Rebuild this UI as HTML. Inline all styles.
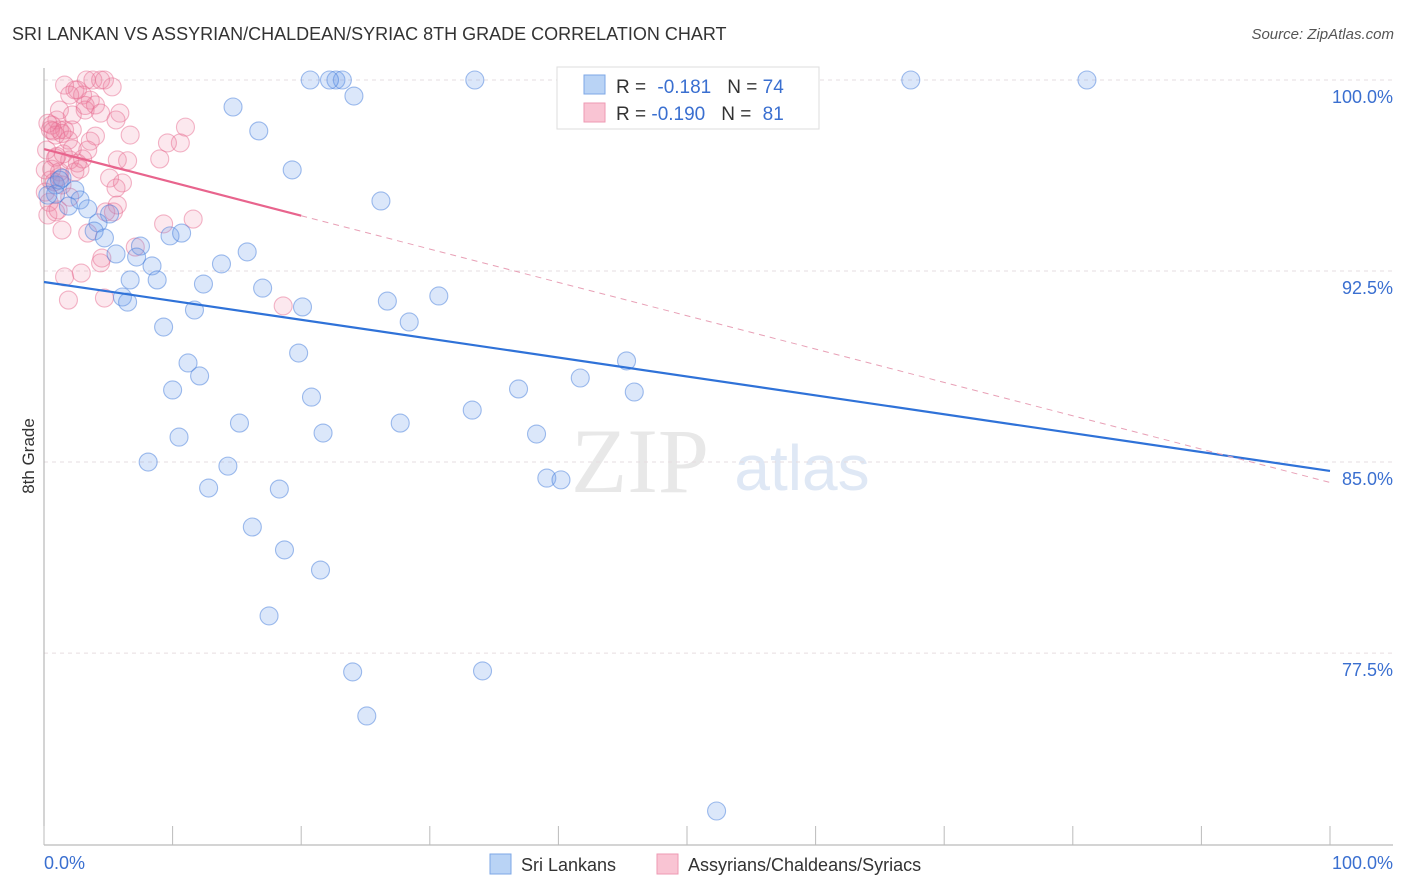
<!DOCTYPE html>
<html><head><meta charset="utf-8"><style>
body{margin:0;background:#fff;}
svg{display:block;font-family:"Liberation Sans",sans-serif;}
</style></head><body>
<svg id="chart" width="1406" height="892" viewBox="0 0 1406 892">
<text x="12" y="40" font-size="18" fill="#333">SRI LANKAN VS ASSYRIAN/CHALDEAN/SYRIAC 8TH GRADE CORRELATION CHART</text>
<text x="1394" y="39" font-size="15" fill="#555" font-style="italic" text-anchor="end">Source: ZipAtlas.com</text>
<text transform="translate(34,456) rotate(-90)" font-size="17" fill="#333" text-anchor="middle">8th Grade</text>
<g><text x="640" y="492" font-size="92" fill="#e8e8e8" font-family="Liberation Serif,serif" text-anchor="middle">ZIP</text><text x="802" y="490" font-size="64" fill="#dfe8f5" text-anchor="middle">atlas</text></g>
<g id="grid"></g><g id="axes"></g><g id="pts"></g><g id="lines"></g>
<g>
<rect x="557" y="67" width="262" height="62" fill="#fff" stroke="#ddd"/>
<rect x="584" y="75" width="21" height="19" fill="#b9d3f5" stroke="#7da7e6"/>
<rect x="584" y="103" width="21" height="19" fill="#f9c4d3" stroke="#ee9ab3"/>
<text x="616" y="93" font-size="19" fill="#333">R = <tspan fill="#3a6fd0" dx="6">-0.181</tspan><tspan dx="16" fill="#333">N = </tspan><tspan fill="#3a6fd0">74</tspan></text>
<text x="616" y="120" font-size="19" fill="#333">R = <tspan fill="#3a6fd0">-0.190</tspan><tspan dx="16" fill="#333">N = </tspan><tspan fill="#3a6fd0" dx="6">81</tspan></text>
</g>
<g>
<rect x="490" y="854" width="21" height="20" fill="#b9d3f5" stroke="#7da7e6"/>
<text x="521" y="871" font-size="18" fill="#333">Sri Lankans</text>
<rect x="657" y="854" width="21" height="20" fill="#f9c4d3" stroke="#ee9ab3"/>
<text x="688" y="871" font-size="18" fill="#333">Assyrians/Chaldeans/Syriacs</text>
</g>
</svg>
<script>
const yTicks=[100,92.5,85,77.5];
const yTickLabels=["100.0%","92.5%","85.0%","77.5%"];
const xTicks=[0,10,20,30,40,50,60,70,80,90,100];
const blueX=[20.7,22.7,23.2,22.2,33.5,67.4,81.1,14.7,24.1,16.7,19.3,26.2,0.9,1.4,2.4,2.8,1.9,3.4,0.9,5.1,4.2,3.9,4.7,5.6,7.5,7.2,8.4,6.7,8.8,6.1,6.5,9.8,10.7,13.8,15.8,12.4,11.7,17.0,20.1,26.7,30.7,28.4,9.3,19.8,45.3,11.2,12.1,10.0,20.8,41.7,36.9,45.9,33.3,15.2,27.7,21.7,38.3,10.5,8.1,14.3,39.1,40.2,12.8,18.3,16.2,18.7,21.5,17.5,24.0,34.1,25.1,52.3,0.3,1.2];
const blueY=[100,100,100,100,100,100,100,98.94,99.37,98.0,96.47,95.25,95.88,96.15,95.68,95.29,95.05,94.94,95.52,94.74,94.39,94.07,93.8,93.17,93.48,93.05,92.7,92.15,92.15,91.48,91.28,93.88,93.99,92.78,93.25,91.99,90.97,91.83,91.09,91.32,91.52,90.5,90.3,89.28,88.97,88.89,88.38,87.83,87.55,88.3,87.87,87.75,87.04,86.53,86.53,86.14,86.1,85.98,85.0,84.84,84.37,84.3,83.98,83.94,82.45,81.55,80.76,78.96,76.76,76.8,75.03,71.3,95.48,96.07];
const pinkX=[1.6,2.4,3.3,3.8,4.4,4.7,5.3,2.6,3.0,2.0,3.6,4.0,1.2,3.2,5.9,4.4,1.0,2.2,0.6,1.2,1.6,2.2,0.5,0.9,1.9,4.0,6.7,5.6,11.0,3.4,10.6,9.6,9.0,6.5,5.7,5.1,6.1,5.6,0.2,0.9,2.0,2.6,3.0,0.1,1.2,2.4,0.5,1.4,0.3,0.9,1.4,5.4,5.7,4.8,9.3,11.6,3.4,7.1,4.5,4.4,1.6,2.9,1.9,4.7,18.6,1.2,0.1,0.6,1.0,1.4,0.3,0.8,2.0,2.8,3.6,0.4,1.1,2.2,0.7,1.5,3.2];
const pinkY=[99.8,99.61,100,100,100,100,99.73,99.61,99.41,99.41,99.21,99.02,98.82,98.82,98.7,98.7,98.43,98.63,98.23,98.04,98.04,98.04,98.04,97.84,97.64,97.8,97.84,98.43,98.15,97.25,97.53,97.53,96.9,96.83,96.86,96.15,95.96,95.76,97.25,96.94,96.86,96.74,96.9,96.47,96.39,96.39,96.07,95.88,94.7,94.82,94.11,94.82,95.09,94.82,94.35,94.54,93.99,93.44,93.01,92.82,92.27,92.42,91.36,91.44,91.13,96.2,95.6,96.5,97.0,97.9,98.3,96.0,95.4,96.5,97.6,95.2,94.9,97.3,98.0,97.1,99.0];
const blueTrend=[92.07,84.65];
const pinkTrend=[97.29,84.2];
const pinkSolidEnd=20;

const NS="http://www.w3.org/2000/svg";
const X=v=>44+v*12.86;
const Y=v=>80+(100-v)*25.47;
function mk(tag,parent,attrs){const e=document.createElementNS(NS,tag);for(const k in attrs)e.setAttribute(k,attrs[k]);document.getElementById(parent).appendChild(e);return e;}
yTicks.forEach((t,i)=>{
 const l=mk('line','grid',{x1:44,x2:1393,y1:Y(t),y2:Y(t),stroke:'#e6dde0','stroke-dasharray':'4,4'});
 
 
 const tx=mk('text','grid',{x:1393,y:Y(t)+23,'font-size':18,fill:'#3a6fd0','text-anchor':'end'});
 tx.textContent=yTickLabels[i];
 
 
});
let a=mk('line','axes',{x1:44,x2:44,y1:68,y2:845,stroke:'#aaa'});


a=mk('line','axes',{x1:44,x2:1393,y1:845,y2:845,stroke:'#aaa'});


xTicks.forEach(t=>{
 const l=mk('line','axes',{x1:X(t),x2:X(t),y1:826,y2:845,stroke:'#bbb'});
 
 
});
let t0=mk('text','axes',{x:44,y:869,'font-size':18,fill:'#3a6fd0'});t0.textContent='0.0%';


let t1=mk('text','axes',{x:1393,y:869,'font-size':18,fill:'#3a6fd0','text-anchor':'end'});t1.textContent='100.0%';


pinkX.forEach((v,i)=>{
 const c=mk('circle','pts',{cx:X(v),cy:Y(pinkY[i]),r:9,fill:'rgba(240,130,160,0.18)',stroke:'rgba(232,110,145,0.5)','stroke-width':1.1});
 
 
});
blueX.forEach((v,i)=>{
 const c=mk('circle','pts',{cx:X(v),cy:Y(blueY[i]),r:9,fill:'rgba(110,160,235,0.25)',stroke:'rgba(70,125,220,0.5)','stroke-width':1.1});
 
 
});
let bl=mk('line','lines',{x1:X(0),y1:Y(blueTrend[0]),x2:X(100),y2:Y(blueTrend[1]),stroke:'#2f72d8','stroke-width':2.2});


const pAt=v=>pinkTrend[0]+(pinkTrend[1]-pinkTrend[0])*v/100;
let pl=mk('line','lines',{x1:X(0),y1:Y(pAt(0)),x2:X(pinkSolidEnd),y2:Y(pAt(pinkSolidEnd)),stroke:'#e8648d','stroke-width':2.2});


let pd=mk('line','lines',{x1:X(pinkSolidEnd),y1:Y(pAt(pinkSolidEnd)),x2:X(100),y2:Y(pAt(100)),stroke:'#e8a0b6','stroke-width':1,'stroke-dasharray':'6,5'});


</script>
</body></html>
